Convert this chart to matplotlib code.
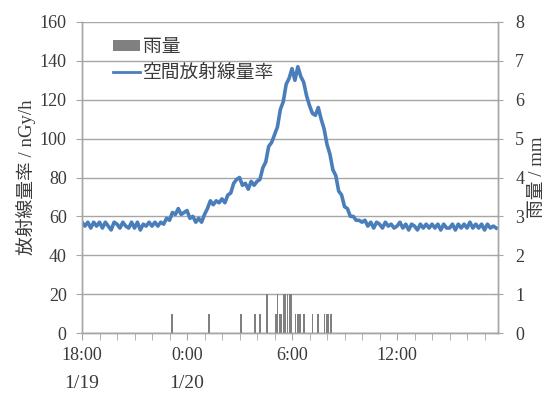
import matplotlib
matplotlib.use("Agg")
import matplotlib.pyplot as plt
from matplotlib.patches import Patch
from matplotlib.lines import Line2D
import matplotlib.transforms as mtransforms
import numpy as np

plt.rcParams['font.family'] = ['Liberation Serif', 'Noto Sans CJK JP', 'DejaVu Sans']

# Radiation dose rate (nGy/h), 10-minute values starting 1/19 18:00
dose_rate = [
    57, 55, 57, 54, 57, 55,
    57, 54, 57, 55, 53, 57,
    56, 54, 57, 55, 54, 57,
    54, 57, 53, 56, 55, 57,
    55, 57, 55, 57, 56, 59,
    58, 62, 61, 64, 61, 62,
    63, 59, 60, 57, 59, 57,
    61, 64, 68, 66, 68, 67,
    69, 67, 71, 72, 77, 79,
    80, 76, 77, 74, 78, 76,
    78, 79, 85, 88, 96, 98,
    102, 106, 115, 119, 128, 131,
    136, 130, 137, 132, 129, 122,
    117, 113, 112, 116, 110, 105,
    97, 92, 84, 81, 73, 71,
    65, 64, 60, 60, 58, 58,
    57, 58, 55, 57, 54, 57,
    56, 54, 57, 55, 56, 54,
    55, 57, 54, 56, 53, 56,
    55, 53, 56, 54, 56, 54,
    56, 54, 56, 53, 56, 54,
    54, 56, 53, 56, 54, 56,
    54, 57, 54, 56, 54, 56,
    53, 56, 54, 55, 54,
]
dose_hours = [i / 6.0 for i in range(len(dose_rate))]

# Rainfall (mm), hours after 1/19 18:00
rain_hours = [5.13, 7.27, 9.09, 9.89, 10.17, 10.57, 11.07, 11.18, 11.30, 11.41,
              11.53, 11.64, 11.75, 11.87, 11.98, 12.21, 12.33, 12.44, 12.70,
              13.18, 13.47, 13.85, 13.96, 14.07, 14.23]
rain_mm = [0.5, 0.5, 0.5, 0.5, 0.5, 1.0, 0.5, 1.0, 0.5, 0.5,
           1.0, 1.0, 1.0, 1.0, 1.0, 0.5, 0.5, 0.5, 0.5,
           0.5, 0.5, 0.5, 0.5, 0.5, 0.5]

xtick_pos = [0, 6, 12, 18]
xtick_labels = ['18:00', '0:00', '6:00', '12:00']
date_pos = [0, 6]
date_labels = ['1/19', '1/20']

line_color = '#4a7ebb'
bar_color = '#808080'
grid_color = '#a6a6a6'
text_color = '#3a3a3a'

fig = plt.figure(figsize=(5.51, 3.94), dpi=100)
ax = fig.add_axes([82/551, 61/394, 416/551, 311/394])
ax2 = ax.twinx()

ax.plot(dose_hours, dose_rate, color=line_color, lw=2.6, zorder=3)
ax2.bar(rain_hours, rain_mm, width=0.09, color=bar_color, edgecolor='none', zorder=2)

ax.set_xlim(0, 23.77)
ax.set_ylim(0, 160)
ax2.set_ylim(0, 8)
ax.set_yticks(np.arange(0, 161, 20))
ax2.set_yticks(np.arange(0, 9, 1))
ax.set_xticks(np.arange(0, 24, 1), minor=True)
ax.set_xticks(xtick_pos)
ax.set_xticklabels(xtick_labels)

ax.grid(axis='y', color=grid_color, lw=1.0)
ax.set_axisbelow(True)

for a in (ax, ax2):
    a.spines['top'].set_visible(False)
    for s in ('left', 'right', 'bottom'):
        a.spines[s].set_color(grid_color)
        a.spines[s].set_linewidth(1.0)

ax.tick_params(axis='y', which='both', direction='out', length=4, color=grid_color,
               labelsize=13, labelcolor=text_color, pad=7)
ax2.tick_params(axis='y', direction='inout', length=7, color=grid_color,
                labelsize=13, labelcolor=text_color, pad=9)
ax.tick_params(axis='x', which='both', direction='out', length=5, color=grid_color,
               labelsize=13, labelcolor=text_color, pad=5)

trans = mtransforms.blended_transform_factory(ax.transData, ax.transAxes)
for p, lab in zip(date_pos, date_labels):
    ax.text(p, -0.135, lab, transform=trans, ha='center', va='top',
            fontsize=14, color=text_color)

ax.set_ylabel('放射線量率 / nGy/h', fontsize=13.5, color=text_color, labelpad=3)
ax2.set_ylabel('雨量 / mm', fontsize=13.5, color=text_color, labelpad=3, rotation=90)

handles = [Patch(facecolor=bar_color, edgecolor='none'),
           Line2D([0], [0], color=line_color, lw=2.0)]
ax.legend(handles, ['雨量', '空間放射線量率'], loc='upper left',
          bbox_to_anchor=(0.075, 0.945), frameon=False, fontsize=13.5,
          handlelength=1.45, handleheight=0.5, handletextpad=0.15, labelspacing=0.45,
          borderaxespad=0.0, borderpad=0.0, labelcolor=text_color)

fig.savefig('out.png', dpi=100)
